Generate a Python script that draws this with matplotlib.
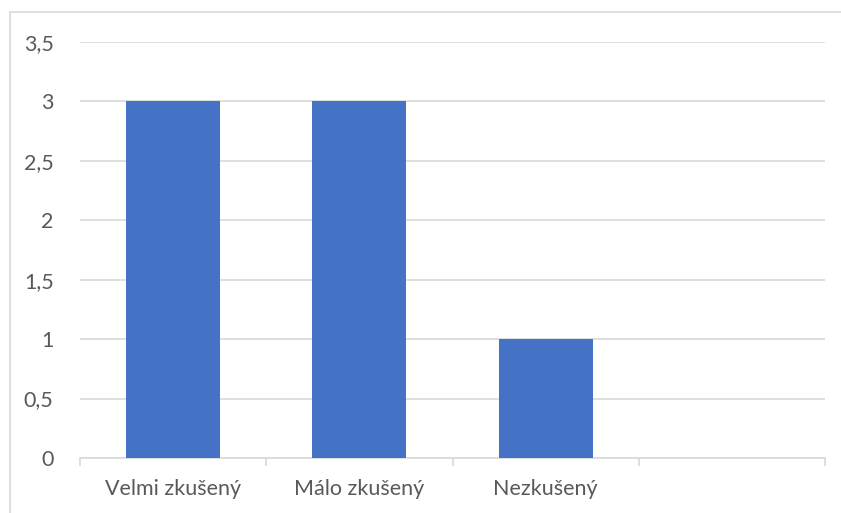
import matplotlib.pyplot as plt
import matplotlib.patches as patches

categories = ["Velmi zkušený", "Málo zkušený", "Nezkušený", ""]
values = [3, 3, 1, 0]
y_ticks = [0, 0.5, 1, 1.5, 2, 2.5, 3, 3.5]
y_labels = ["0", "0,5", "1", "1,5", "2", "2,5", "3", "3,5"]

plt.rcParams["font.family"] = ["Lato", "DejaVu Sans"]

W, H = 841, 513
fig = plt.figure(figsize=(W / 100, H / 100), dpi=100)
ax = fig.add_axes([80 / W, 1 - 458 / H, (825 - 80) / W, (458 - 42) / H])

# outer chart border (right/bottom run off the image)
fig.patches.append(patches.Rectangle((10 / W, -0.1), 1.2, 1 - 12 / H + 0.1,
                                     transform=fig.transFigure, fill=False,
                                     edgecolor="#d9d9d9", linewidth=1.2))

x = range(len(categories))
ax.bar(x, values, width=0.505, color="#4472c4", zorder=3)

ax.set_xlim(-0.5, len(categories) - 0.5)
ax.set_ylim(0, 3.5)
ax.set_yticks(y_ticks)
ax.set_yticklabels(y_labels, fontsize=15.5, color="#595959")
ax.yaxis.grid(True, color="#d9d9d9", linewidth=1.2, zorder=0)
ax.tick_params(axis="y", length=0, pad=19)

ax.set_xticks(list(x))
ax.set_xticklabels(categories, fontsize=15.5, color="#595959")
ax.set_xticks([i - 0.5 for i in range(len(categories) + 1)], minor=True)
ax.tick_params(axis="x", which="major", length=0, pad=15)
ax.tick_params(axis="x", which="minor", length=6, color="#d9d9d9", width=1.2)

for side in ["top", "right", "left"]:
    ax.spines[side].set_visible(False)
ax.spines["bottom"].set_color("#d9d9d9")
ax.spines["bottom"].set_linewidth(1.2)

fig.savefig("out.png", dpi=100)
